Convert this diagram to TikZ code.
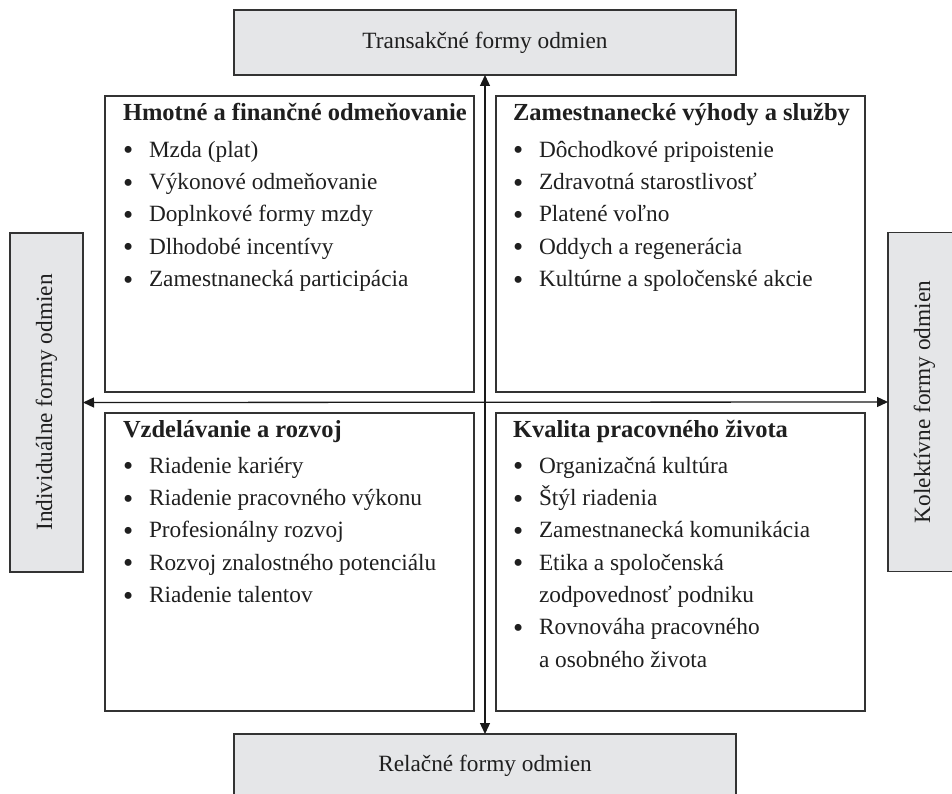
\documentclass[tikz,border=0pt]{standalone}
\usepackage{fontspec}
\setmainfont{Liberation Serif}
\usetikzlibrary{arrows.meta}
\definecolor{boxgray}{HTML}{E5E6E8}
\definecolor{edge}{HTML}{333333}
\newcommand{\bul}{\makebox[26pt][l]{\raisebox{-2.6pt}{\fontsize{29}{29}\selectfont •}}}
\begin{document}
\begin{tikzpicture}[x=1pt,y=-1pt,
  every node/.style={font=\fontsize{23.3}{27}\selectfont, text=black!88, inner sep=0pt, outer sep=0pt},
  axisbox/.style={draw=edge, line width=1.3pt, fill=boxgray},
  quadbox/.style={draw=edge, line width=1.3pt, fill=white},
  head/.style={anchor=mid west, font=\fontsize{24.5}{28}\selectfont\bfseries},
  item/.style={anchor=mid west},
  axisarrow/.style={draw=black!90, line width=1.3pt, {Triangle[length=11pt,width=10pt]}-{Triangle[length=11pt,width=10pt]}}
]
\useasboundingbox (0,0) rectangle (952,794);
\clip (0,0) rectangle (952,794);
\fill[white] (0,0) rectangle (952,794);

% axis boxes
\node[axisbox, minimum width=502pt, minimum height=65pt] (T) at (485,42.5) {Transakčné formy odmien};
\node[axisbox, minimum width=502pt, minimum height=66pt] (B) at (485,767) {};
\node (Btext) at (485,766) {Relačné formy odmien};
\node[axisbox, rotate=90, minimum width=339pt, minimum height=73pt] (L) at (46.5,402.5) {Individuálne formy odmien};
\node[axisbox, rotate=90, minimum width=339pt, minimum height=73pt] (R) at (924.5,402) {Kolektívne formy odmien};

% quadrant boxes
\node[quadbox, minimum width=369pt, minimum height=296pt] (QTL) at (289.5,244) {};
\node[quadbox, minimum width=369pt, minimum height=296pt] (QTR) at (680.5,244) {};
\node[quadbox, minimum width=369pt, minimum height=298pt] (QBL) at (289.5,562) {};
\node[quadbox, minimum width=369pt, minimum height=298pt] (QBR) at (680.5,562) {};

% axes
\draw[axisarrow] (T.south) -- (B.north);
\draw[axisarrow] (L.south) -- (R.north);

% top left
\node[head] (hTL) at (123,118) {Hmotné a finančné odmeňovanie};
\foreach \t [count=\i] in {Mzda (plat), Výkonové odmeňovanie, Doplnkové formy mzdy, Dlhodobé incentívy, Zamestnanecká participácia}
  \node[item] (tl\i) at (123,{155+32.3*(\i-1)}) {\bul\t};

% top right
\node[head] (hTR) at (513,118) {Zamestnanecké výhody a služby};
\foreach \t [count=\i] in {Dôchodkové pripoistenie, Zdravotná starostlivosť, Platené voľno, Oddych a regenerácia, Kultúrne a spoločenské akcie}
  \node[item] (tr\i) at (513,{155+32.3*(\i-1)}) {\bul\t};

% bottom left
\node[head] (hBL) at (123,435) {Vzdelávanie a rozvoj};
\foreach \t [count=\i] in {Riadenie kariéry, Riadenie pracovného výkonu, Profesionálny rozvoj, Rozvoj znalostného potenciálu, Riadenie talentov}
  \node[item] (bl\i) at (123,{471+32.3*(\i-1)}) {\bul\t};

% bottom right
\node[head] (hBR) at (513,435) {Kvalita pracovného života};
\node[item] (br1) at (513,471) {\bul Organizačná kultúra};
\node[item] (br2) at (513,503.3) {\bul Štýl riadenia};
\node[item] (br3) at (513,535.6) {\bul Zamestnanecká komunikácia};
\node[item] (br4) at (513,567.9) {\bul Etika a spoločenská};
\node[item] (br4b) at (539,600.2) {zodpovednosť podniku};
\node[item] (br5) at (513,632.5) {\bul Rovnováha pracovného};
\node[item] (br5b) at (539,664.8) {a osobného života};
\end{tikzpicture}
\end{document}
